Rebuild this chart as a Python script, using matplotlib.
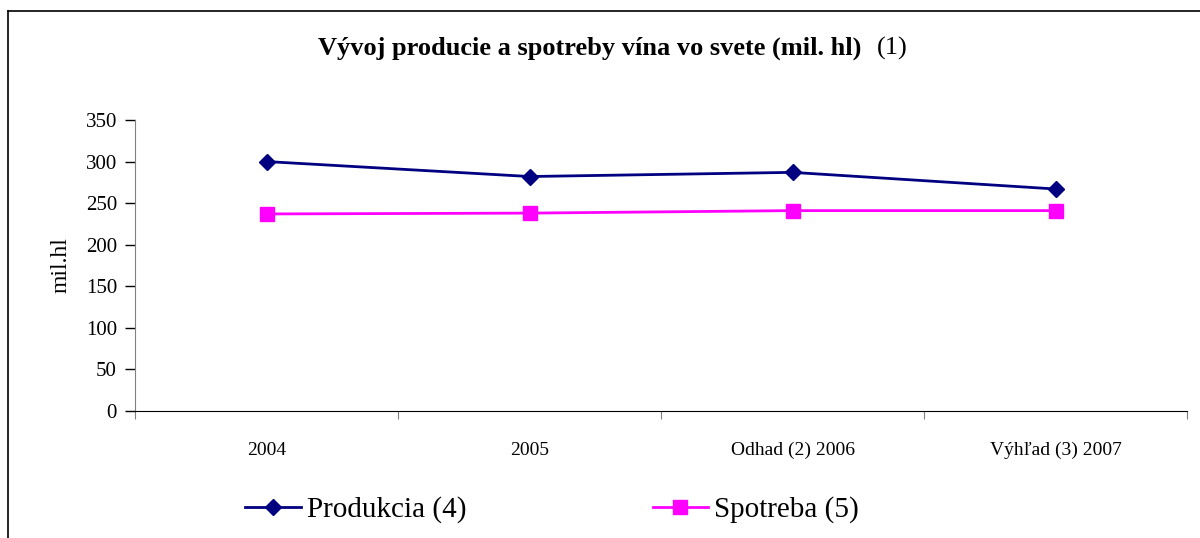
import numpy as np
import matplotlib.pyplot as plt
from matplotlib.lines import Line2D

plt.rcParams['font.family'] = ['Liberation Serif', 'DejaVu Serif']

categories = ["2004", "2005", "Odhad (2) 2006", "Výhľad (3) 2007"]
produkcia = [300, 282, 287, 267]
spotreba = [237, 238, 241, 241]

fig = plt.figure(figsize=(12, 5.38), dpi=100)
ax = fig.add_axes([0.1125, 0.236, 0.8767, 0.541])

x = np.arange(len(categories))
ax.plot(x, produkcia, color="#000080", linewidth=2, marker="D", markersize=8.5,
        label="Produkcia (4)")
ax.plot(x, spotreba, color="#FF00FF", linewidth=2, marker="s", markersize=10,
        label="Spotreba (5)")

ax.set_xlim(-0.5, len(categories) - 0.5)
ax.set_ylim(0, 350)
ax.set_yticks(np.arange(0, 351, 50))
ax.tick_params(axis="y", labelsize=15, length=7, direction="out", width=1, pad=6)

# category boundaries as major ticks, labels centred on minor ticks
ax.set_xticks(np.arange(-0.5, len(categories), 1.0))
ax.set_xticklabels([])
ax.set_xticks(x, minor=True)
ax.set_xticklabels(categories, minor=True)
ax.tick_params(axis="x", which="major", length=6, direction="out", color="#808080")
ax.tick_params(axis="x", which="minor", length=0, labelsize=14, pad=22)

for side in ("top", "right"):
    ax.spines[side].set_visible(False)
ax.spines["left"].set_color("#808080")
ax.spines["bottom"].set_color("#000000")

ax.set_ylabel("mil.hl", fontsize=17, labelpad=10)

fig.text(0.718, 0.91, "Vývoj producie a spotreby vína vo svete (mil. hl)",
         ha="right", va="center", fontsize=19, fontweight="bold")
fig.text(0.731, 0.91, "(1)", ha="left", va="center", fontsize=19)

fig.legend(loc="center", bbox_to_anchor=(0.46, 0.052), ncol=2, frameon=False,
           fontsize=21, handlelength=1.9, handletextpad=0.2, columnspacing=6.4)

# outer frame (top and left edges visible)
fig.add_artist(Line2D([0.007, 1.0], [0.979, 0.979], transform=fig.transFigure,
                      color="black", linewidth=1.2))
fig.add_artist(Line2D([0.007, 0.007], [0.0, 0.979], transform=fig.transFigure,
                      color="black", linewidth=1.2))

plt.savefig("out.png", dpi=100)
